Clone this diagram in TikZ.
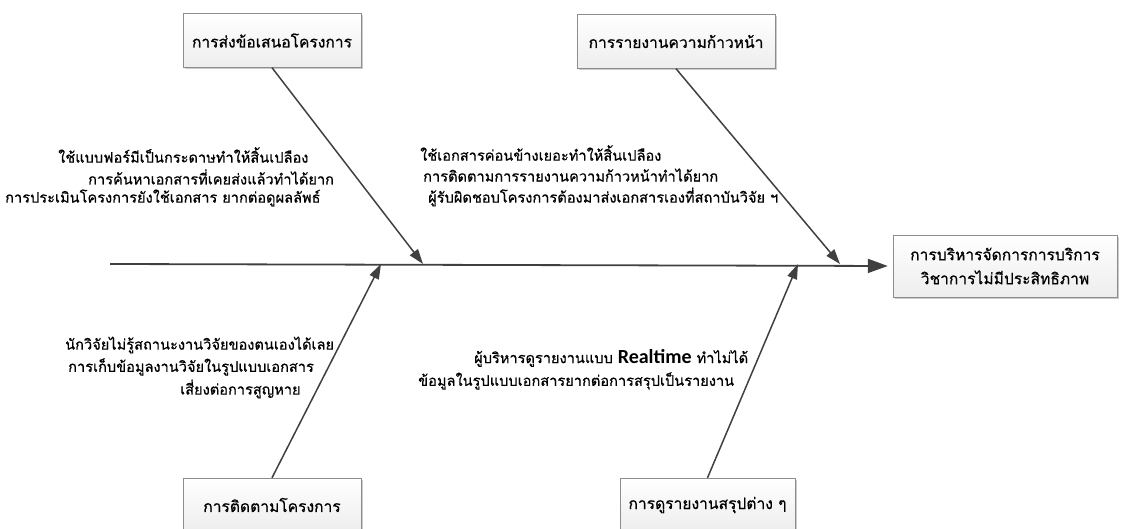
\documentclass[tikz,border=0pt]{standalone}
\usepackage{fontspec}
\newfontfamily\thaifont[Script=Thai,FakeBold=0.6]{Loma}
\newfontfamily\latinfont{Carlito}
\usetikzlibrary{arrows.meta,shadows}
\definecolor{bonecol}{RGB}{64,64,64}
\definecolor{boxline}{RGB}{140,140,140}
\tikzset{
  % category and effect boxes
  catbox/.style={rectangle, draw=boxline, top color=white, bottom color=black!7,
                 minimum width=#1, minimum height=54pt, inner sep=2pt,
                 font=\thaifont\fontsize{15.6}{24}\selectfont,
                 drop shadow={shadow xshift=2pt, shadow yshift=-2pt, fill=black!40, opacity=0.5}},
  catbox/.default={178pt},
  % cause text line
  causetxt/.style={anchor=west, inner sep=0pt, font=\thaifont\fontsize{14.6}{21}\selectfont},
  % branch arrow
  bone/.style={draw=bonecol, line width=1.5pt, -{Triangle[length=15pt,width=10pt]}},
  % main spine
  spine/.style={draw=bonecol, line width=1.8pt, -{Triangle[length=20pt,width=14pt]}},
}
\begin{document}
\begin{tikzpicture}[x=1pt,y=-1pt]
  \useasboundingbox (0,0) rectangle (1127,529);

  % effect
  \node[catbox=224pt, minimum height=62pt, align=center] (effect) at (1005,266)
    {การบริหารจัดการการบริการ\\วิชาการไม่มีประสิทธิภาพ};

  % categories
  \node[catbox=178pt] (propose) at (272,40.5) {การส่งข้อเสนอโครงการ};
  \node[catbox=198pt] (report) at (676,41.5) {การรายงานความก้าวหน้า};
  \node[catbox=178pt] (follow) at (272,505) {การติดตามโครงการ};
  \node[catbox=175pt] (summary) at (707.5,505) {การดูรายงานสรุปต่าง ๆ};

  % spine and joints
  \coordinate (tail) at (110,264);
  \coordinate (jpropose) at (423,264);
  \coordinate (jreport) at (840,264);
  \coordinate (jfollow) at (381,264);
  \coordinate (jsummary) at (798,264);
  \draw[spine, shorten >=5pt] (tail) -- (effect.west);

  \draw[bone] (propose.south) -- (jpropose);
  \draw[bone] (report.south) -- (jreport);
  \draw[bone] (follow.north) -- (jfollow);
  \draw[bone] (summary.north) -- (jsummary);

  % causes
  \node[causetxt] (c11) at (58,155) {ใช้แบบฟอร์มีเป็นกระดาษทำให้สิ้นเปลือง};
  \node[causetxt] (c12) at (88,177) {การค้นหาเอกสารที่เคยส่งแล้วทำได้ยาก};
  \node[causetxt] (c13) at (5,198) {การประเมินโครงการยังใช้เอกสาร ยากต่อดูผลลัพธ์};

  \node[causetxt] (c21) at (420,153) {ใช้เอกสารค่อนข้างเยอะทำให้สิ้นเปลือง};
  \node[causetxt] (c22) at (423,175) {การติดตามการรายงานความก้าวหน้าทำได้ยาก};
  \node[causetxt] (c23) at (428,197) {ผู้รับผิดชอบโครงการต้องมาส่งเอกสารเองที่สถาบันวิจัย ฯ};

  \node[causetxt] (c31) at (65,345) {นักวิจัยไม่รู้สถานะงานวิจัยของตนเองได้เลย};
  \node[causetxt] (c32) at (68,367) {การเก็บข้อมูลงานวิจัยในรูปแบบเอกสาร};
  \node[causetxt] (c33) at (180,389) {เสี่ยงต่อการสูญหาย};

  \node[causetxt] (c41) at (474,358) {ผู้บริหารดูรายงานแบบ {\latinfont\bfseries\fontsize{20}{21}\selectfont Realtime} ทำไม่ได้};
  \node[causetxt] (c42) at (418,381) {ข้อมูลในรูปแบบเอกสารยากต่อการสรุปเป็นรายงาน};
\end{tikzpicture}
\end{document}
